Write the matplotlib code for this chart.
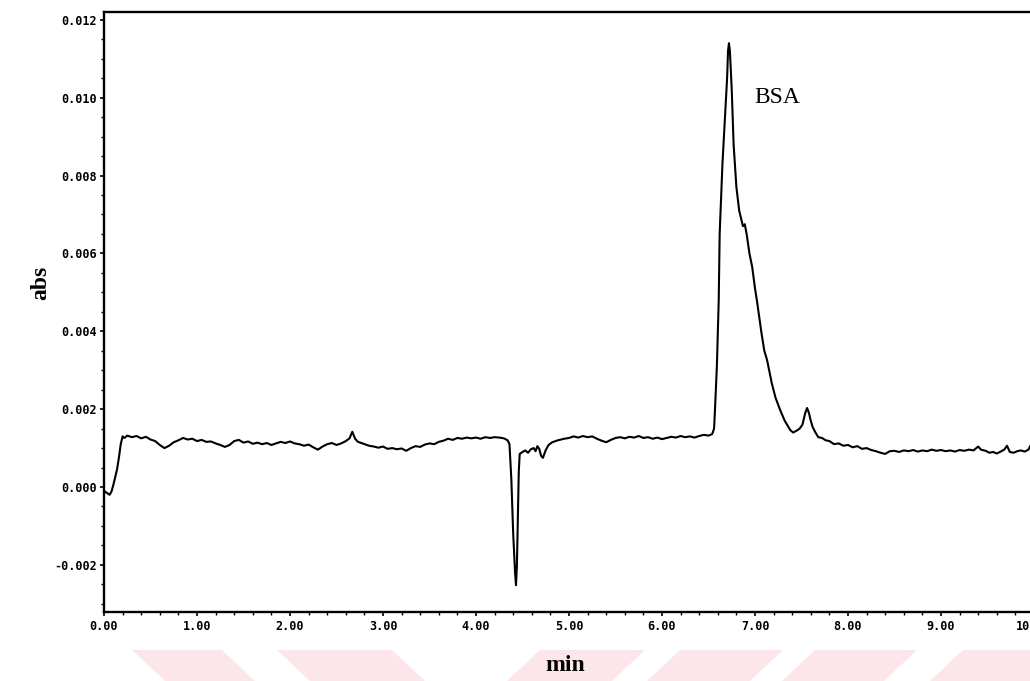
import matplotlib
matplotlib.use("Agg")
import matplotlib.pyplot as plt
from matplotlib.patches import Polygon
from matplotlib.ticker import MultipleLocator, FormatStrFormatter

# chromatogram trace (time in min, absorbance)
time_min = [
    0.00, 0.03, 0.06, 0.08, 0.10, 0.12, 0.14, 0.16, 0.18, 0.20,
    0.22, 0.25, 0.30, 0.35, 0.40, 0.45, 0.50, 0.55, 0.60, 0.65,
    0.70, 0.75, 0.80, 0.85, 0.90, 0.95, 1.00, 1.05, 1.10, 1.15,
    1.20, 1.25, 1.30, 1.35, 1.40, 1.45, 1.50, 1.55, 1.60, 1.65,
    1.70, 1.75, 1.80, 1.85, 1.90, 1.95, 2.00, 2.05, 2.10, 2.15,
    2.20, 2.25, 2.30, 2.35, 2.40, 2.45, 2.50, 2.55, 2.60, 2.64,
    2.67, 2.70, 2.73, 2.78, 2.85, 2.90, 2.95, 3.00, 3.05, 3.10,
    3.15, 3.20, 3.25, 3.30, 3.35, 3.40, 3.45, 3.50, 3.55, 3.60,
    3.65, 3.70, 3.75, 3.80, 3.85, 3.90, 3.95, 4.00, 4.05, 4.10,
    4.15, 4.20, 4.25, 4.30, 4.34, 4.36, 4.38, 4.40, 4.42, 4.43,
    4.44, 4.45, 4.46, 4.47, 4.50, 4.53, 4.56, 4.59, 4.62, 4.64,
    4.66, 4.68, 4.70, 4.72, 4.75, 4.78, 4.82, 4.88, 4.95,
    5.00, 5.05, 5.10, 5.15, 5.20, 5.25, 5.30, 5.35, 5.40, 5.45,
    5.50, 5.55, 5.60, 5.65, 5.70, 5.75, 5.80, 5.85, 5.90, 5.95,
    6.00, 6.05, 6.10, 6.15, 6.20, 6.25, 6.30, 6.35, 6.40, 6.45,
    6.50, 6.54, 6.56, 6.57, 6.59, 6.61, 6.62, 6.65, 6.68, 6.70,
    6.71, 6.72, 6.73, 6.75, 6.77, 6.80, 6.83, 6.86, 6.87, 6.89,
    6.91, 6.94, 6.97, 7.00, 7.02, 7.05, 7.07, 7.10, 7.13, 7.18,
    7.22, 7.27, 7.32, 7.38, 7.41, 7.45, 7.48, 7.51, 7.54, 7.56,
    7.58, 7.60, 7.62, 7.65, 7.68, 7.72, 7.76, 7.80, 7.85, 7.90,
    7.95, 8.00, 8.05, 8.10, 8.15, 8.20, 8.25, 8.30, 8.35, 8.40,
    8.45, 8.50, 8.55, 8.60, 8.65, 8.70, 8.75, 8.80, 8.85, 8.90,
    8.95, 9.00, 9.05, 9.10, 9.15, 9.20, 9.25, 9.30, 9.35, 9.40,
    9.43, 9.48, 9.52, 9.56, 9.60, 9.65, 9.68, 9.71, 9.74, 9.78,
    9.82, 9.86, 9.90, 9.94, 9.97, 10.00,
]
absorbance = [
    -0.00010, -0.00015, -0.00020, -0.00012, 0.00005, 0.00025, 0.00045, 0.00075, 0.00110, 0.00130,
    0.00126, 0.00132, 0.00128, 0.00131, 0.00125, 0.00129, 0.00122, 0.00118, 0.00108, 0.00100,
    0.00106, 0.00115, 0.00120, 0.00126, 0.00122, 0.00124, 0.00118, 0.00121, 0.00116, 0.00117,
    0.00112, 0.00108, 0.00103, 0.00108, 0.00118, 0.00121, 0.00114, 0.00117, 0.00111, 0.00114,
    0.00110, 0.00113, 0.00108, 0.00112, 0.00116, 0.00113, 0.00117, 0.00112, 0.00110, 0.00106,
    0.00109, 0.00102, 0.00096, 0.00104, 0.00110, 0.00113, 0.00108, 0.00112, 0.00118, 0.00125,
    0.00142, 0.00124, 0.00116, 0.00112, 0.00106, 0.00104, 0.00101, 0.00104, 0.00098, 0.00100,
    0.00097, 0.00099, 0.00093, 0.00100, 0.00105, 0.00103, 0.00109, 0.00112, 0.00110, 0.00116,
    0.00119, 0.00124, 0.00121, 0.00126, 0.00124, 0.00127, 0.00125, 0.00127, 0.00124, 0.00128,
    0.00126, 0.00128, 0.00127, 0.00125, 0.00120, 0.00110, 0.00020, -0.00120, -0.00220, -0.00252,
    -0.00200, -0.00080, 0.00040, 0.00085, 0.00090, 0.00094, 0.00088, 0.00097, 0.00100, 0.00092,
    0.00105, 0.00098, 0.00080, 0.00075, 0.00095, 0.00108, 0.00115, 0.00120, 0.00124,
    0.00126, 0.00130, 0.00127, 0.00131, 0.00128, 0.00130, 0.00124, 0.00119, 0.00115, 0.00121,
    0.00126, 0.00128, 0.00125, 0.00129, 0.00127, 0.00131, 0.00126, 0.00128, 0.00124, 0.00127,
    0.00123, 0.00126, 0.00129, 0.00127, 0.00131, 0.00128, 0.00130, 0.00127, 0.00131, 0.00134,
    0.00132, 0.00136, 0.00150, 0.00200, 0.00310, 0.00480, 0.00650, 0.00830, 0.00960, 0.01050,
    0.01120, 0.01140, 0.01120, 0.01020, 0.00880, 0.00770, 0.00710, 0.00680, 0.00670, 0.00675,
    0.00650, 0.00600, 0.00565, 0.00510, 0.00480, 0.00430, 0.00395, 0.00350, 0.00326, 0.00267,
    0.00230, 0.00198, 0.00170, 0.00146, 0.00140, 0.00145, 0.00150, 0.00160, 0.00190, 0.00203,
    0.00190, 0.00170, 0.00154, 0.00140, 0.00128, 0.00126, 0.00120, 0.00118, 0.00110, 0.00112,
    0.00106, 0.00108, 0.00102, 0.00105, 0.00098, 0.00100, 0.00095, 0.00092, 0.00088, 0.00085,
    0.00092, 0.00093, 0.00090, 0.00094, 0.00092, 0.00095, 0.00091, 0.00094, 0.00092, 0.00096,
    0.00093, 0.00095, 0.00092, 0.00094, 0.00091, 0.00095, 0.00093, 0.00096, 0.00094, 0.00104,
    0.00096, 0.00093, 0.00088, 0.00090, 0.00086, 0.00092, 0.00096, 0.00106, 0.00090, 0.00088,
    0.00092, 0.00094, 0.00091, 0.00096, 0.00110, 0.00095,
]

peak_label = "BSA"
peak_label_pos = (7.24, 0.0100)

plt.rcParams['axes.unicode_minus'] = False

fig = plt.figure(figsize=(10.30, 6.81), dpi=100)

# pink watermark bands along the bottom of the scan (figure pixels)
pink = '#fce6e9'
bands = [(132, 222, 1), (277, 392, 1), (540, 645, -1), (680, 783, -1), (815, 917, -1), (963, 1075, -1)]
for x0, x1, d in bands:
    s = 33 * d
    pts = [(x0, 650), (x1, 650), (x1 + s, 681), (x0 + s, 681)]
    pts = [(px / 1030, 1 - py / 681) for px, py in pts]
    fig.add_artist(Polygon(pts, closed=True, transform=fig.transFigure,
                           facecolor=pink, edgecolor='none', zorder=0))

# axes runs slightly past the right edge, as in the cropped scan
ax = fig.add_axes([104 / 1030, 1 - 612 / 681, 930 / 1030, 600 / 681])
ax.patch.set_alpha(0)

ax.plot(time_min, absorbance, color='black', lw=1.5)

ax.set_xlim(0, 10)
ax.set_ylim(-0.00321, 0.0122)

ax.xaxis.set_major_locator(MultipleLocator(1))
ax.xaxis.set_minor_locator(MultipleLocator(0.2))
ax.yaxis.set_major_locator(MultipleLocator(0.002))
ax.yaxis.set_minor_locator(MultipleLocator(0.0005))
ax.xaxis.set_major_formatter(FormatStrFormatter('%.2f'))
ax.yaxis.set_major_formatter(FormatStrFormatter('%.3f'))

for lab in ax.get_xticklabels() + ax.get_yticklabels():
    lab.set_fontfamily('DejaVu Sans Mono')
    lab.set_fontweight('bold')
    lab.set_fontsize(8.5)

ax.tick_params(axis='both', which='major', direction='out', length=3, width=1.2, pad=2)
ax.tick_params(axis='both', which='minor', direction='out', length=2, width=1)
ax.tick_params(axis='x', which='major', pad=3)

for side in ['left', 'bottom', 'top']:
    ax.spines[side].set_linewidth(1.7)
ax.spines['right'].set_visible(False)

ax.set_ylabel('abs', family='Liberation Serif', weight='bold', fontsize=17)
ax.yaxis.set_label_coords(-0.057, 0.548)
ax.set_xlabel('min', family='Liberation Serif', weight='bold', fontsize=17)
ax.xaxis.set_label_coords(0.496, -0.072)

ax.text(peak_label_pos[0], peak_label_pos[1], peak_label, family='Liberation Serif',
        fontsize=17, ha='center', va='center')

fig.savefig('out.png', dpi=100)
